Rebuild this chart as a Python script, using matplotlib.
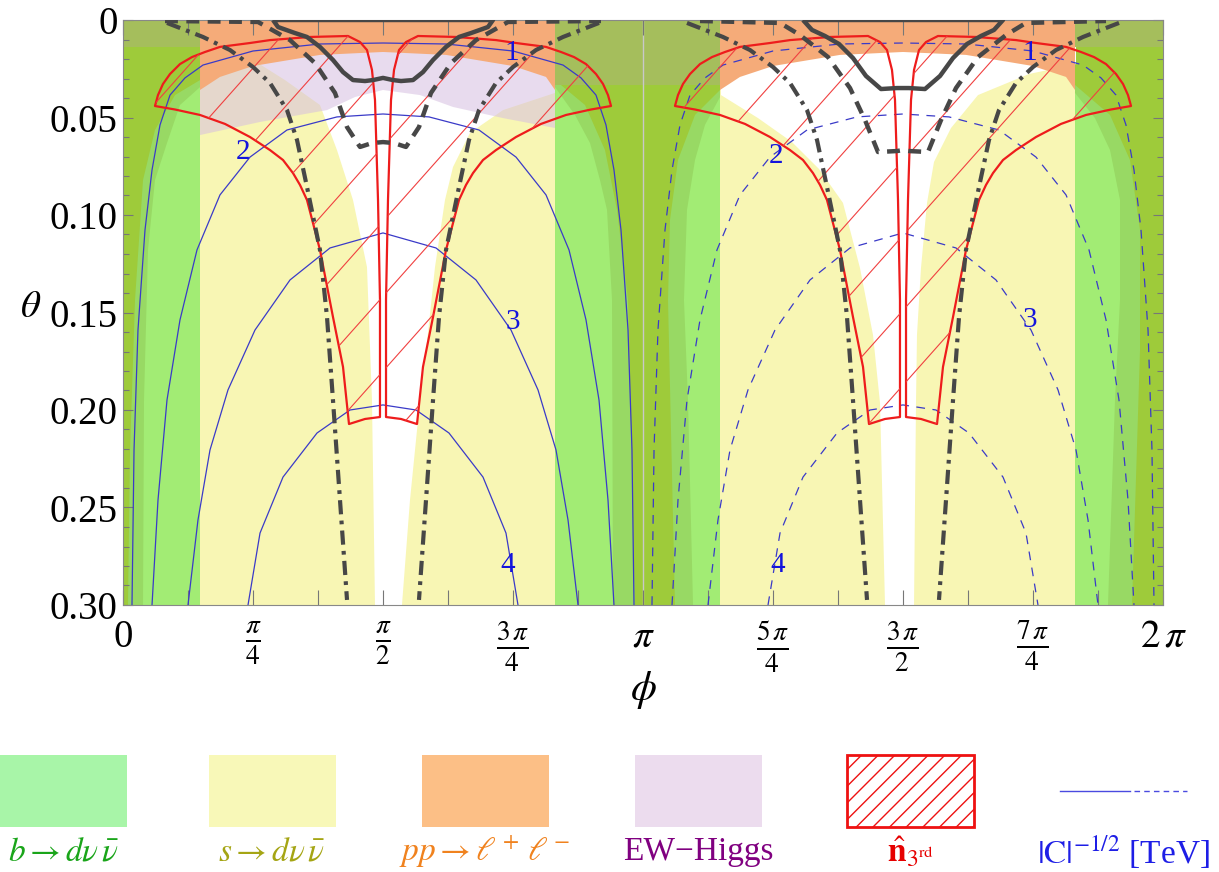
import numpy as np
import matplotlib.pyplot as plt
from matplotlib.patches import Polygon, Rectangle

plt.rcParams['font.family'] = ['Liberation Serif', 'DejaVu Serif']
plt.rcParams['mathtext.fontset'] = 'stix'

PI = np.pi
# all phi values below are in units of pi, theta in rad

# |C|^-1/2 = 1..4 TeV contours, left half of each arch (bottom -> apex at pi/2)
c1_phi = [0.0173, 0.0212, 0.0288, 0.0423, 0.0558, 0.0712, 0.0904, 0.1192, 0.1538, 0.25, 0.3788, 0.5]
c1_th = [0.3, 0.2205, 0.159, 0.1077, 0.0769, 0.0538, 0.0385, 0.0297, 0.0231, 0.0159, 0.0123, 0.0118]
c2_phi = [0.0558, 0.0673, 0.0846, 0.1096, 0.1423, 0.1865, 0.2442, 0.3154, 0.4115, 0.5]
c2_th = [0.3, 0.2462, 0.1949, 0.1538, 0.1179, 0.0897, 0.0703, 0.0564, 0.0497, 0.0482]
c3_phi = [0.125, 0.1442, 0.1673, 0.2019, 0.2538, 0.3212, 0.3981, 0.5]
c3_th = [0.3, 0.2564, 0.2205, 0.1897, 0.159, 0.1333, 0.1169, 0.1092]
c4_phi = [0.2404, 0.2635, 0.3077, 0.3731, 0.4365, 0.5]
c4_th = [0.3, 0.2631, 0.2344, 0.2118, 0.2, 0.1974]

lab_text = ['1', '2', '3', '4', '1', '2', '3', '4']
lab_phi = [0.748, 0.2308, 0.75, 0.7404, 1.744, 1.2558, 1.744, 1.2596]
lab_th = [0.0169, 0.0677, 0.1549, 0.2795, 0.0169, 0.0697, 0.1538, 0.2795]

# n_3rd region: left horn of a panel (right horn is its mirror about pi/2)
horn_phi = [0.0615, 0.0673, 0.0769, 0.0904, 0.1096, 0.1327, 0.1577, 0.1865, 0.2442, 0.2827, 0.3596, 0.4327,
            0.4558, 0.4692, 0.4788, 0.4846, 0.4904, 0.4942, 0.4942,
            0.4654, 0.4346,
            0.4231, 0.4038, 0.3788, 0.3538, 0.3404, 0.3269, 0.3077, 0.2827, 0.2442, 0.1962, 0.1481, 0.1]
horn_th = [0.0441, 0.0385, 0.0328, 0.0277, 0.0226, 0.019, 0.0164, 0.0138, 0.0118, 0.0103, 0.0087, 0.0082,
           0.0113, 0.0154, 0.0256, 0.041, 0.0923, 0.1436, 0.2036,
           0.2046, 0.2072,
           0.1779, 0.1523, 0.1179, 0.0923, 0.0846, 0.0785, 0.0718, 0.0667, 0.06, 0.0533, 0.0487, 0.0459]

# thick dark curves
dd_phi = [0.0846, 0.1538, 0.2058, 0.25, 0.2827, 0.3154, 0.3346, 0.3538, 0.3788, 0.3923, 0.4038, 0.4173, 0.4308]
dd_th = [0.0015, 0.0087, 0.0154, 0.0241, 0.0323, 0.0462, 0.0615, 0.0856, 0.1179, 0.1523, 0.1949, 0.2462, 0.2974]
du_phi_L = [0.0808, 0.2596, 0.3212, 0.3692, 0.4077, 0.4308, 0.4558, 0.4788, 0.5]
du_th_L = [0.0005, 0.001, 0.0103, 0.0221, 0.0374, 0.0549, 0.0651, 0.0631, 0.0626]
du_phi_R = [0.1096, 0.2635, 0.3019, 0.3558, 0.3981, 0.4269, 0.4519, 0.4885, 0.5]
du_th_R = [0.0005, 0.0015, 0.0077, 0.019, 0.0349, 0.0513, 0.0677, 0.0672, 0.0667]
so_phi_L = [0.2885, 0.2981, 0.3308, 0.3538, 0.3788, 0.4038, 0.4231, 0.4423, 0.4654, 0.4808, 0.5]
so_th_L = [0.0, 0.0036, 0.0067, 0.0087, 0.0138, 0.0205, 0.0267, 0.0308, 0.0313, 0.0308, 0.0297]
so_phi_R = [0.3077, 0.325, 0.35, 0.3769, 0.4038, 0.4288, 0.4577, 0.4885, 0.5]
so_th_R = [0.0, 0.0051, 0.0082, 0.0123, 0.0195, 0.0287, 0.0354, 0.0349, 0.0349]

# shaded regions
strip_lo = [0.1481, 1.1481]
strip_hi = [0.8308, 1.8308]
or_phi = [0.1481, 0.1865, 0.25, 0.3788, 0.5, 0.6212, 0.75, 0.8135, 0.8308]
or_th = [0.0359, 0.0292, 0.0236, 0.0179, 0.0164, 0.0179, 0.0236, 0.0292, 0.0359]
lav_phi = [0.1481, 0.2635, 0.3923, 0.4462, 0.5, 0.5712, 0.6346, 0.7308, 0.8308, 0.8308, 0.1481]
lav_th = [0.059, 0.0523, 0.0462, 0.0395, 0.0359, 0.0385, 0.0446, 0.0503, 0.0554, 0.0103, 0.0103]
white_L_phi = [0.2346, 0.3115, 0.3788, 0.4115, 0.4423, 0.4692, 0.4788, 0.4846, 0.5365, 0.5519,
               0.5712, 0.5865, 0.6, 0.6192, 0.6346, 0.6673, 0.7308, 0.8308, 0.8308, 0.2346]
white_L_th = [0.0179, 0.0308, 0.0436, 0.0667, 0.0923, 0.1267, 0.1949, 0.3, 0.3, 0.2462,
              0.1949, 0.1605, 0.1267, 0.0923, 0.0754, 0.0579, 0.0462, 0.0374, 0.0103, 0.0103]
white_R_phi = [1.15, 1.2212, 1.2865, 1.3385, 1.3846, 1.4173, 1.4423, 1.4558, 1.4654, 1.5212, 1.525,
               1.5269, 1.5346, 1.5462, 1.5596, 1.5923, 1.6442, 1.7423, 1.8327, 1.8327, 1.15]
white_R_th = [0.0385, 0.0503, 0.0626, 0.0764, 0.0938, 0.1272, 0.1615, 0.1964, 0.3, 0.3, 0.1964,
              0.1615, 0.1272, 0.0938, 0.0728, 0.0554, 0.0385, 0.0277, 0.0226, 0.0103, 0.0103]
top_lo = [0.0, 0.8308, 1.8308]
top_hi = [0.1481, 1.1481, 2.0]
top_th = [0.0138, 0.0333, 0.0138]

mid_green = [
    ([0.1481, 0.1, 0.0615, 0.0385, 0.0231, 0.0135, 0.0096, 0.1481],
     [0.0308, 0.0385, 0.0564, 0.0821, 0.1436, 0.2205, 0.3, 0.3]),
    ([0.8308, 0.8885, 0.9269, 0.95, 0.9712, 0.9846, 0.8308],
     [0.0308, 0.0436, 0.0667, 0.0974, 0.1436, 0.3, 0.3]),
    ([1.1481, 1.1, 1.0673, 1.0519, 1.0481, 1.0615, 1.1481],
     [0.0359, 0.0487, 0.0718, 0.1026, 0.1436, 0.3, 0.3]),
    ([1.8308, 1.8981, 1.9365, 1.9558, 1.9558, 1.9404, 1.8308],
     [0.0333, 0.0487, 0.0718, 0.1077, 0.1692, 0.3, 0.3]),
]
light_green = [
    ([0.1481, 0.1096, 0.0846, 0.0615, 0.0481, 0.0404, 0.0385, 0.1481],
     [0.0344, 0.0436, 0.0631, 0.0821, 0.1179, 0.1949, 0.3, 0.3]),
    ([0.8308, 0.8692, 0.8981, 0.9173, 0.9308, 0.9404, 0.9423, 0.8308],
     [0.0344, 0.0487, 0.0631, 0.0821, 0.0974, 0.1436, 0.3, 0.3]),
    ([1.1481, 1.1192, 1.1, 1.0846, 1.0788, 1.0865, 1.0962, 1.1481],
     [0.0395, 0.0538, 0.0718, 0.0974, 0.1436, 0.1949, 0.3, 0.3]),
    ([1.8308, 1.8692, 1.8981, 1.9173, 1.9173, 1.9077, 1.8942, 1.8308],
     [0.0374, 0.0503, 0.0667, 0.0923, 0.1436, 0.1949, 0.3, 0.3]),
]

# legend
leg_labels = [r'$b\rightarrow d\nu\,\bar{\nu}$', r'$s\rightarrow d\nu\,\bar{\nu}$',
              r'$pp\rightarrow \ell^+\,\ell^-$', 'EW\u2212Higgs',
              r'$\hat{\mathbf{n}}_{3^{\mathrm{rd}}}$', r'$|\mathrm{C}|^{-1/2}$ [TeV]']
leg_fill = ['#a8f5a8', '#f8f8b8', '#fcbf86', '#ecdcee', 'white', None]
leg_text_col = ['#1aa51a', '#a5a514', '#f0821e', '#800080', '#e60000', '#1e1ee6']

OLIVE = '#9ecb3a'
BLUE = '#3a3ac8'
RED = '#ee1c1c'
DARK = '#474747'


def mirror_half(ph, th):
    """arch symmetric about phi = pi/2 from its left half"""
    ph, th = list(ph), list(th)
    return np.array(ph + [1 - p for p in ph[-2::-1]]), np.array(th + th[-2::-1])


fig = plt.figure(figsize=(12.19, 8.72), dpi=100)
ax = fig.add_axes([123 / 1219, 1 - 605 / 872, 1040 / 1219, 585 / 872])
ax.set_facecolor(OLIVE)

# ---- shaded regions ----
for ph, th in mid_green:
    ax.fill(np.array(ph) * PI, th, color='#98d964', lw=0, zorder=1)
for ph, th in light_green:
    ax.fill(np.array(ph) * PI, th, color='#a2ec74', lw=0, zorder=1)
for lo, hi in zip(strip_lo, strip_hi):
    ax.fill_between([lo * PI, hi * PI], 0, 0.3, color='#f8f6b4', lw=0, zorder=1)
ax.fill(np.array(white_L_phi) * PI, white_L_th, color='white', lw=0, zorder=1)
ax.fill(np.array(white_R_phi) * PI, white_R_th, color='white', lw=0, zorder=1)
ax.fill(np.array(lav_phi) * PI, lav_th, color='#d6bfe0', alpha=0.55, lw=0, zorder=1)
for s in (0, 1):
    oph = np.array(or_phi + [or_phi[-1], or_phi[0]]) + s
    oth = or_th + [0, 0]
    ax.fill(oph * PI, oth, color='#f5ab79', lw=0, zorder=1)
for lo, hi, h in zip(top_lo, top_hi, top_th):
    ax.fill_between([lo * PI, hi * PI], 0, h, color='#a5be5c', lw=0, zorder=1)

ax.axvline(PI, color='#c8c8c8', lw=1, zorder=1.5)

# ---- contours ----
for s in (0, 1):
    ls = '-' if s == 0 else (0, (7, 6))
    for cph, cth in [(c1_phi, c1_th), (c2_phi, c2_th), (c3_phi, c3_th), (c4_phi, c4_th)]:
        fp, ft = mirror_half(cph, cth)
        ax.plot((fp + s) * PI, ft, color=BLUE, lw=0.9, ls=ls, zorder=2)

for t, p, th in zip(lab_text, lab_phi, lab_th):
    ax.text(p * PI, th, t, color='#1414dc', fontsize=21, ha='center', va='center', zorder=6)

# ---- n_3rd horns with sparse hatching ----
hp = np.array(horn_phi)
for s in (0, 1):
    for side in (hp, 1 - hp):
        poly = Polygon(np.column_stack([(side + s) * PI, horn_th]), closed=True,
                       fill=False, edgecolor=RED, lw=1.6, zorder=3, joinstyle='round')
        ax.add_patch(poly)
        for k in range(-20, 12):
            y0 = 0.0277 + k * 0.128
            ln, = ax.plot([0, 1], [y0, y0 + 2.0], transform=ax.transAxes,
                          color='#f04040', lw=0.8, zorder=3)
            ln.set_clip_path(poly)

# ---- thick dark curves ----
for s, (sp, st), (dp, dt) in [(0, (so_phi_L, so_th_L), (du_phi_L, du_th_L)),
                              (1, (so_phi_R, so_th_R), (du_phi_R, du_th_R))]:
    fp, ft = mirror_half(sp, st)
    ax.plot(np.append(fp, fp[0]) * PI + s * PI, np.append(ft, ft[0]),
            color=DARK, lw=3.2, zorder=4, solid_capstyle='butt', solid_joinstyle='round')
    fp, ft = mirror_half(dp, dt)
    ax.plot((fp + s) * PI, ft, color=DARK, lw=3.2, ls=(0, (2.9, 1.9)), zorder=4)
    for branch in (np.array(dd_phi), 1 - np.array(dd_phi)):
        ax.plot((branch + s) * PI, dd_th, color=DARK, lw=3.0,
                ls=(0, (3.4, 1.5, 0.9, 1.5)), zorder=4)

# ---- axes ----
ax.set_xlim(0, 2 * PI)
ax.set_ylim(0.30, 0)
ax.set_xticks(np.arange(9) * PI / 4,
              ['0', r'$\frac{\pi}{4}$', r'$\frac{\pi}{2}$', r'$\frac{3\,\pi}{4}$', r'$\pi$',
               r'$\frac{5\,\pi}{4}$', r'$\frac{3\,\pi}{2}$', r'$\frac{7\,\pi}{4}$', r'$2\,\pi$'])
ax.set_xticks(np.arange(17) * PI / 8, minor=True)
ax.set_yticks(np.arange(7) * 0.05, ['0', '0.05', '0.10', '0.15', '0.20', '0.25', '0.30'])
ax.set_yticks(np.arange(31) * 0.01, minor=True)
ax.tick_params(axis='x', which='both', direction='in', length=10.5, top=True,
               color='#777777', width=0.8, labelsize=28, pad=10)
ax.tick_params(axis='y', which='major', direction='in', length=7, right=True,
               color='#777777', width=0.8, labelsize=28, pad=4)
ax.tick_params(axis='y', which='minor', direction='in', length=4.5, right=True,
               color='#777777', width=0.8)
for sp in ax.spines.values():
    sp.set_color('#888888')
ax.set_ylabel(r'$\theta$', rotation=0, fontsize=28, va='center', ha='center')
ax.yaxis.set_label_coords(-0.089, 0.508)
ax.set_xlabel(r'$\phi$', fontsize=30, va='center')
ax.xaxis.set_label_coords(0.5, -0.145)

# ---- legend row ----
lax = fig.add_axes([0, 0, 1, 140 / 872])
lax.set_xlim(0, 1219)
lax.set_ylim(872, 732)
lax.axis('off')
leg_x = [0, 209, 422, 635, 847, 1060]
for i, (lab, fc, tc) in enumerate(zip(leg_labels, leg_fill, leg_text_col)):
    x = leg_x[i]
    if i == 4:
        lax.add_patch(Rectangle((x, 755), 127, 72, facecolor='white', edgecolor='#ee1111',
                                hatch='//', lw=2))
    elif fc is not None:
        lax.add_patch(Rectangle((x, 755), 127, 72, facecolor=fc, edgecolor='none'))
    else:
        lax.plot([x, x + 70], [791, 791], color='#4a4ae0', lw=1)
        lax.plot([x + 74, x + 127], [791, 791], color='#4a4ae0', lw=1, ls=(0, (4, 3)))
    lax.text(x + 63, 852, lab, ha='center', va='center', fontsize=24, color=tc)

fig.savefig('out.png', dpi=100)
